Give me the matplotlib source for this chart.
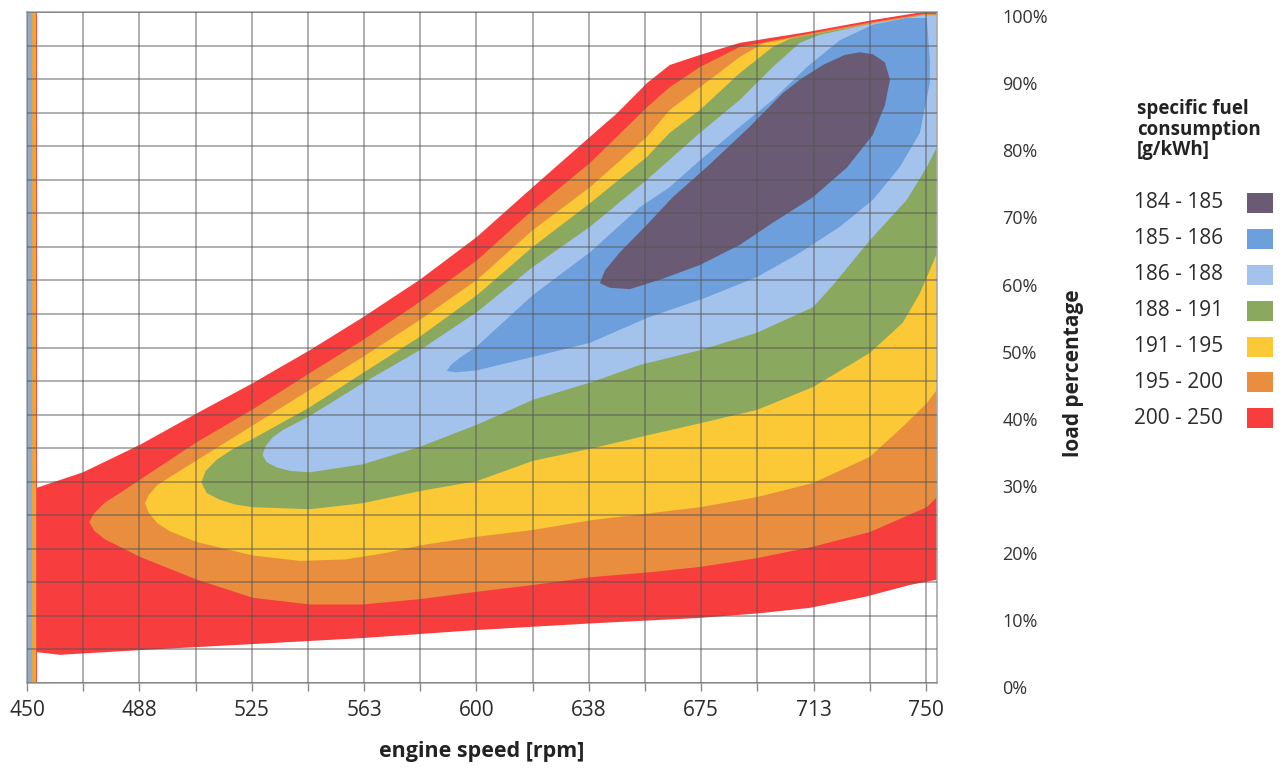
import matplotlib
matplotlib.use("Agg")
import matplotlib.pyplot as plt
from matplotlib.patches import Rectangle
from matplotlib.ticker import MultipleLocator
from matplotlib.transforms import ScaledTranslation

plt.rcParams['font.family'] = ['Open Sans', 'DejaVu Sans']

# specific fuel consumption bands [g/kWh], outermost (worst) first
band_labels = ['200 - 250', '195 - 200', '191 - 195', '188 - 191', '186 - 188', '185 - 186', '184 - 185']
band_colors = ['#f73d3d', '#e88e3e', '#fac935', '#8aa95f', '#a4c3ec', '#6d9fdc', '#6a5a74']

# operating envelope (sfc < 250)
red_top_rpm = [453.3, 468.7, 487.7, 506.7, 525.4, 544.4, 562.1, 581.1, 600.2, 618.8, 637.9, 646.9,
               656.9, 664.5, 674.6, 687.9, 710.3, 732.3, 749.0, 753.7]
red_top_load = [29.1, 31.4, 35.5, 40.2, 44.7, 49.6, 54.5, 60.1, 66.5, 73.9, 81.4, 84.9,
                89.4, 92.1, 93.6, 95.4, 97.0, 98.8, 100.0, 100.0]
red_bot_rpm = [453.3, 461.0, 487.7, 525.4, 562.1, 600.2, 638.9, 674.6, 694.6, 711.3, 729.3, 744.6, 753.7]
red_bot_load = [4.6, 4.2, 4.9, 5.8, 6.7, 7.9, 8.9, 9.7, 10.4, 11.2, 12.8, 14.6, 15.4]

# sfc < 200
orange_top_rpm = [470.8, 472.4, 476.0, 481.0, 487.7, 506.7, 525.4, 544.4, 562.1, 581.1, 600.2, 618.8,
                  637.9, 656.9, 664.5, 674.6, 687.9, 710.3, 732.3, 749.0, 753.7]
orange_top_load = [24.0, 25.3, 26.9, 28.3, 30.3, 35.9, 40.8, 46.2, 51.1, 56.8, 63.0, 70.5,
                   77.5, 85.8, 88.8, 91.8, 94.8, 96.7, 98.5, 99.7, 99.7]
orange_bot_rpm = [470.8, 472.4, 476.0, 481.0, 487.7, 506.7, 525.4, 544.4, 562.1, 581.1, 600.2, 618.8,
                  638.9, 657.9, 674.6, 693.6, 712.3, 731.3, 750.3, 753.7]
orange_bot_load = [24.0, 22.7, 21.4, 20.3, 18.8, 15.4, 12.7, 11.7, 11.7, 12.5, 13.6, 14.6,
                   15.8, 16.5, 17.3, 18.6, 20.3, 22.5, 26.2, 27.7]

# sfc < 195
yellow_top_rpm = [489.4, 490.6, 493.5, 497.7, 506.7, 525.4, 544.4, 562.1, 581.1, 600.2, 618.8, 637.9,
                  656.9, 664.5, 674.6, 687.9, 695.6, 710.3, 732.3, 749.0, 753.7]
yellow_top_load = [26.8, 28.0, 29.5, 30.7, 33.2, 38.4, 43.7, 48.6, 54.1, 60.1, 67.5, 73.9,
                   81.4, 85.4, 88.8, 93.3, 95.3, 96.5, 98.3, 99.5, 99.5]
yellow_bot_rpm = [489.4, 490.6, 493.5, 497.7, 506.7, 525.4, 541.0, 556.0, 570.0, 581.1, 600.2, 618.8,
                  638.9, 657.9, 674.6, 693.6, 712.3, 731.3, 742.3, 750.3, 753.7]
yellow_bot_load = [26.8, 25.4, 23.8, 22.6, 21.0, 19.0, 18.2, 18.4, 19.4, 20.5, 21.8, 22.8,
                   24.3, 25.3, 26.2, 27.7, 29.8, 33.7, 38.2, 41.7, 43.7]

# sfc < 191
green_top_rpm = [508.2, 509.6, 513.4, 518.5, 525.4, 544.4, 562.1, 581.1, 600.2, 618.8, 637.9, 656.9,
                 664.5, 674.6, 687.9, 698.9, 704.6, 710.3, 732.3, 749.0, 753.7]
green_top_load = [29.9, 31.6, 33.3, 34.8, 36.4, 41.1, 46.2, 51.6, 57.8, 65.0, 71.5, 78.4,
                  82.0, 85.4, 90.9, 94.8, 96.0, 96.5, 98.3, 99.5, 99.5]
green_bot_rpm = [508.2, 510.0, 514.4, 519.5, 525.4, 544.4, 562.1, 581.1, 600.2, 618.8, 638.9, 657.9,
                 674.6, 693.6, 712.3, 731.3, 742.3, 748.0, 751.3, 753.7]
green_bot_load = [29.9, 28.3, 27.3, 26.6, 26.2, 25.9, 26.8, 28.6, 30.1, 33.1, 35.0, 37.0,
                  38.7, 40.7, 44.1, 49.2, 53.7, 58.1, 61.5, 64.1]

# sfc < 188
lblue_top_rpm = [528.6, 529.6, 532.0, 535.4, 544.4, 562.1, 581.1, 600.2, 618.8, 637.9, 656.9, 674.6,
                 687.9, 698.9, 707.9, 714.6, 732.3, 749.0, 753.7]
lblue_top_load = [34.0, 35.3, 36.6, 37.7, 39.8, 44.7, 49.6, 55.3, 62.0, 68.0, 75.0, 82.0,
                  86.9, 91.8, 95.4, 96.6, 98.3, 99.5, 99.5]
lblue_bot_rpm = [528.6, 530.0, 533.5, 538.0, 544.4, 562.1, 581.1, 600.2, 618.8, 638.9, 654.5, 674.6,
                 693.6, 712.3, 719.0, 731.3, 743.6, 750.3, 753.7]
lblue_bot_load = [34.0, 32.9, 32.1, 31.6, 31.4, 32.6, 35.2, 38.5, 42.2, 44.9, 47.4, 49.6,
                  52.2, 56.0, 59.3, 66.0, 72.0, 76.9, 79.9]

# sfc < 186
mblue_top_rpm = [590.1, 591.5, 594.5, 600.2, 618.8, 637.9, 654.5, 664.5, 674.6, 687.9, 698.9, 710.3,
                 721.3, 732.3, 743.6, 750.3]
mblue_top_load = [46.5, 47.4, 48.5, 50.2, 57.8, 64.2, 70.9, 73.9, 77.9, 82.9, 86.9, 91.8,
                  95.8, 98.1, 99.1, 99.1]
mblue_bot_rpm = [590.1, 593.0, 600.2, 618.8, 637.9, 656.9, 676.9, 693.6, 707.9, 721.3, 732.3, 741.3,
                 748.0, 751.3, 751.3, 750.3]
mblue_bot_load = [46.5, 46.3, 46.6, 48.6, 50.7, 54.4, 57.5, 60.5, 64.1, 68.0, 72.0, 76.9,
                  82.0, 89.4, 92.8, 99.1]

# sfc < 185 (optimum island, closed outline)
core_rpm = [641.2, 644.5, 651.2, 661.2, 674.6, 687.9, 698.9, 712.3, 723.6, 732.3, 736.3, 738.0,
            736.3, 732.3, 727.9, 722.9, 715.6, 707.9, 702.2, 691.2, 676.9, 665.5, 656.9, 647.9, 642.9]
core_load = [59.6, 58.9, 58.7, 60.1, 62.3, 65.3, 68.6, 72.4, 76.8, 81.7, 86.1, 89.9,
             92.5, 93.7, 94.0, 93.6, 92.1, 89.9, 87.9, 82.9, 76.9, 72.4, 68.3, 64.2, 61.5]

# narrow colour strip along the 450 rpm edge
edge_strip_rpm = [450.2, 451.6, 452.9, 453.4]
edge_strip_colors = ['#8eabcf', '#eaa43c', '#f2503a']

x_ticks = [450, 487.5, 525, 562.5, 600, 637.5, 675, 712.5, 750]
x_tick_labels = ['450', '488', '525', '563', '600', '638', '675', '713', '750']
y_ticks = [0, 10, 20, 30, 40, 50, 60, 70, 80, 90, 100]
y_tick_labels = [f'{v}%' for v in y_ticks]

bands = [
    (red_top_rpm, red_top_load, red_bot_rpm, red_bot_load),
    (orange_top_rpm, orange_top_load, orange_bot_rpm, orange_bot_load),
    (yellow_top_rpm, yellow_top_load, yellow_bot_rpm, yellow_bot_load),
    (green_top_rpm, green_top_load, green_bot_rpm, green_bot_load),
    (lblue_top_rpm, lblue_top_load, lblue_bot_rpm, lblue_bot_load),
    (mblue_top_rpm, mblue_top_load, mblue_bot_rpm, mblue_bot_load),
]

fig = plt.figure(figsize=(12.83, 7.69), dpi=100)
ax = fig.add_axes([27 / 1283, 86 / 769, 910 / 1283, 671 / 769])

# nested regions, each painted over the previous one
for (top_x, top_y, bot_x, bot_y), col in zip(bands, band_colors):
    ax.fill(top_x + bot_x[::-1], top_y + bot_y[::-1], color=col, lw=0, zorder=1)
ax.fill(core_rpm, core_load, color=band_colors[-1], lw=0, zorder=1)

for a, b, col in zip(edge_strip_rpm[:-1], edge_strip_rpm[1:], edge_strip_colors):
    ax.axvspan(a, b, color=col, lw=0, zorder=1.5)

ax.set_xlim(450, 753.7)
ax.set_ylim(0, 100)

ax.set_xticks(x_ticks, x_tick_labels)
ax.xaxis.set_minor_locator(MultipleLocator(18.75))
ax.set_yticks(y_ticks, y_tick_labels)
ax.yaxis.set_minor_locator(MultipleLocator(5))
ax.yaxis.tick_right()

ax.set_axisbelow(False)
ax.grid(which='both', color='#555555', alpha=0.55, lw=1.2, zorder=2)

ax.tick_params(axis='x', which='both', direction='out', length=6, width=1, color='#8c8c8c',
               labelsize=15, pad=6, labelcolor='#2b2b2b')
ax.tick_params(axis='y', which='both', length=0, pad=47, labelsize=13, labelcolor='#333333')
# percent labels sit a little below their grid lines
for lbl in ax.get_yticklabels():
    lbl.set_transform(lbl.get_transform() + ScaledTranslation(0, -3 / 72, fig.dpi_scale_trans))
for sp in ax.spines.values():
    sp.set_color('#a8a8a8')
    sp.set_linewidth(1.2)

ax.set_xlabel('engine speed [rpm]', fontsize=15.5, fontweight='bold', labelpad=15, color='#222222')
ax.yaxis.set_label_position('right')
ax.set_ylabel('load percentage', fontsize=15, fontweight='bold', color='#222222', rotation=90)
ax.yaxis.set_label_coords(1.139, 0.462)

# legend: values on the left, swatch on the right
fig.text(1137 / 1283, 1 - 99 / 769, 'specific fuel\nconsumption\n[g/kWh]', ha='left', va='top',
         fontsize=13.5, fontweight='bold', linespacing=1.05, color='#222222')
row_y = 203
for lab, col in zip(band_labels[::-1], band_colors[::-1]):
    fy = 1 - row_y / 769
    fig.text(1134 / 1283, fy, lab, ha='left', va='center', fontsize=15, color='#2b2b2b')
    fig.patches.append(Rectangle((1247 / 1283, fy - 10 / 769), 26 / 1283, 20 / 769,
                                 transform=fig.transFigure, facecolor=col, edgecolor='none'))
    row_y += 35.9

fig.savefig('out.png', dpi=100)
